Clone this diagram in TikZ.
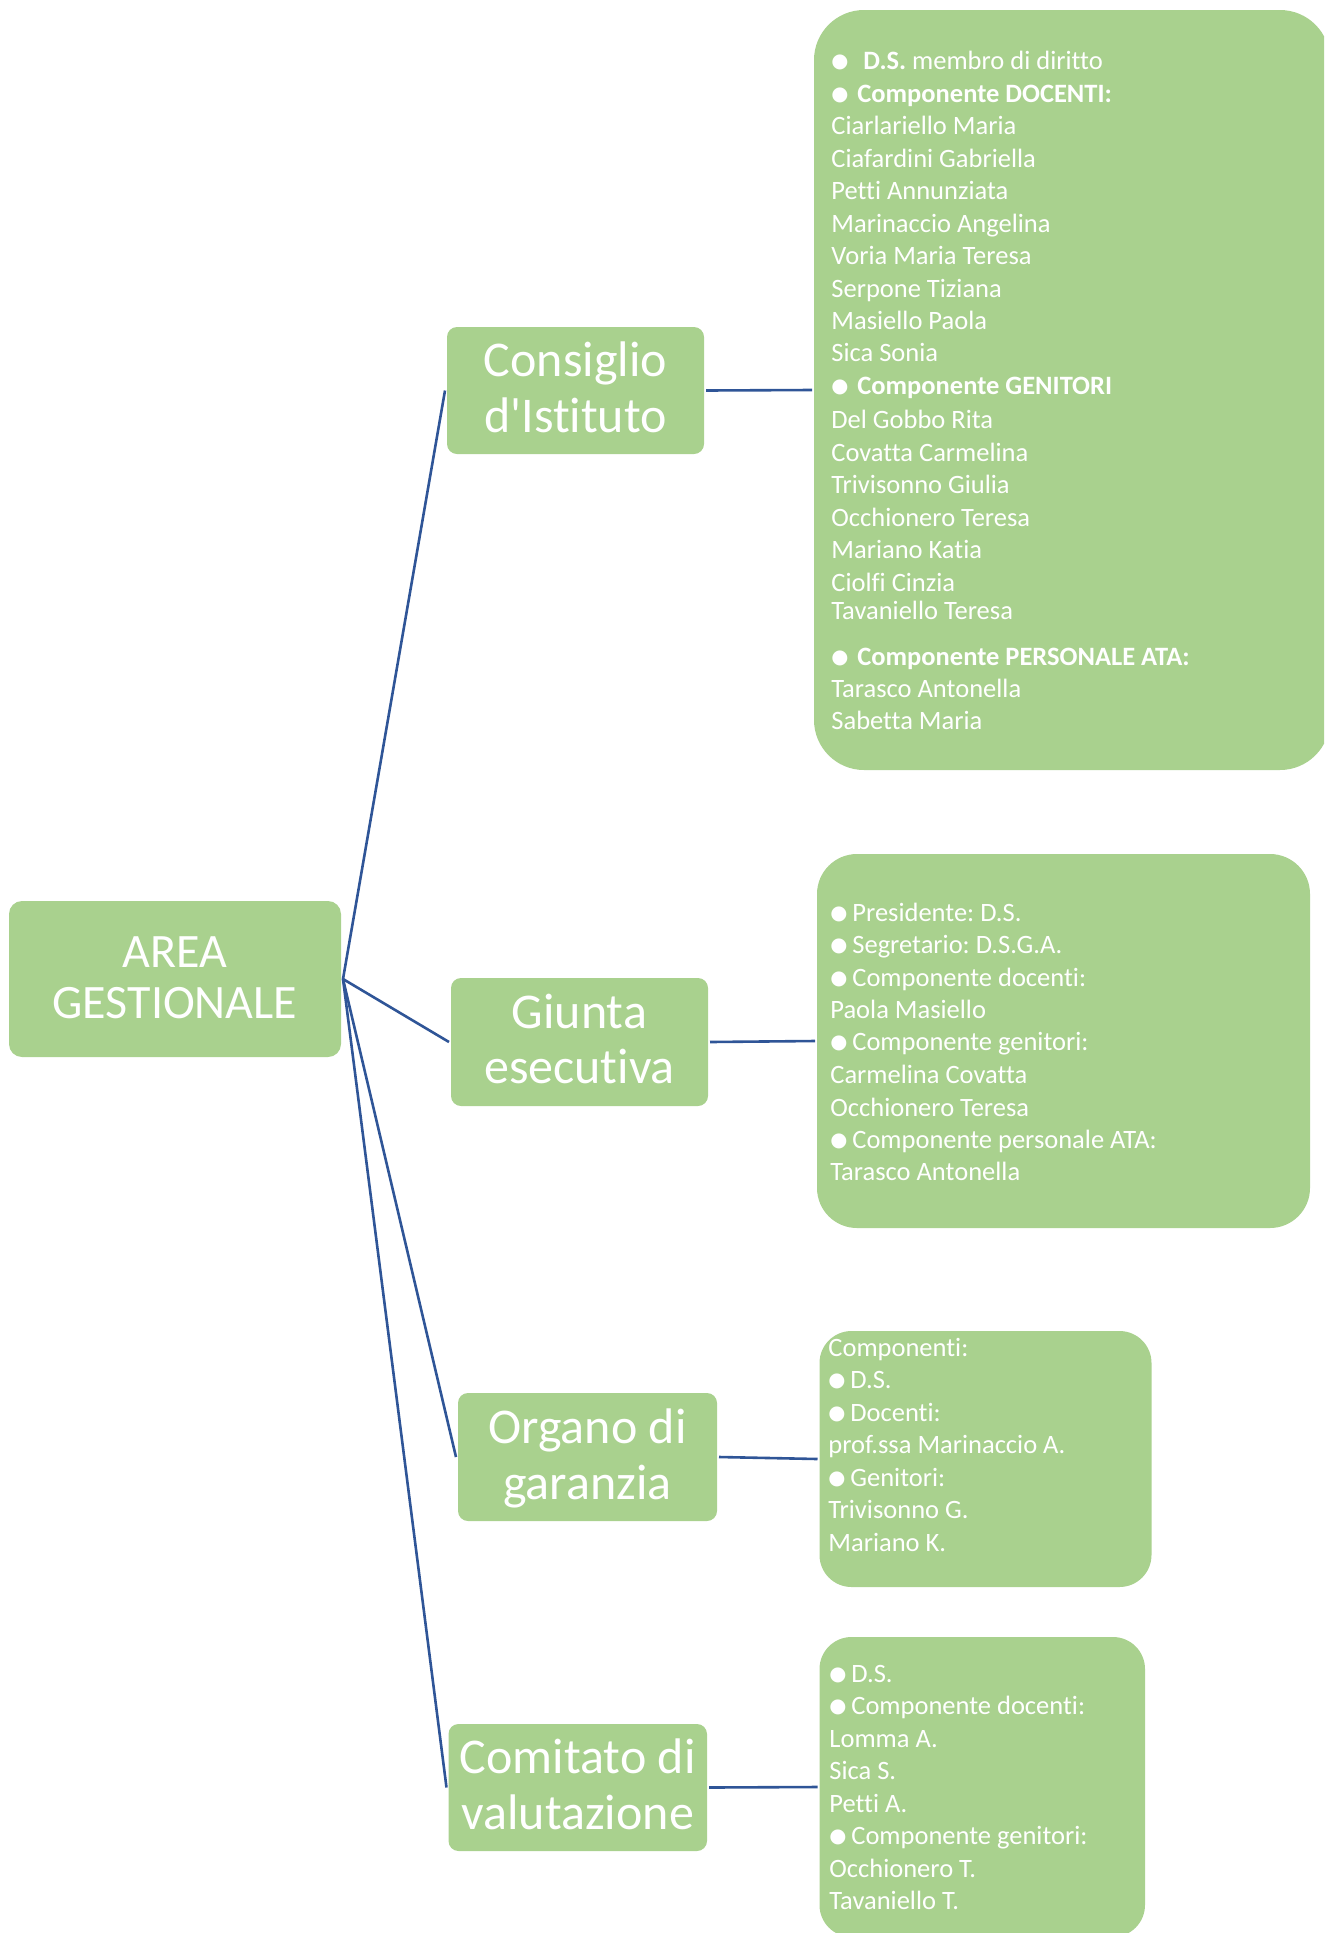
\documentclass[tikz,border=0pt]{standalone}
\usepackage{fontspec}
\setmainfont{Carlito}[Ligatures=NoCommon]
\newfontfamily\carl{Carlito}[Ligatures=NoCommon]
\newfontfamily\dvs{DejaVu Sans}
\definecolor{gr}{HTML}{A9D18E}
\definecolor{ln}{HTML}{2F5597}
\newcommand\mybul{\makebox[8pt][l]{\raisebox{1pt}{\dvs\fontsize{9.8}{9.8}\selectfont ●}}}
\frenchspacing
\begin{document}
\frenchspacing
\begin{tikzpicture}[x=0.5pt,y=-0.5pt,
  box/.style={fill=gr, draw=none, inner sep=0pt, outer sep=1pt, rounded corners=5pt},
  big/.style={text=white, font=\carl\fontsize{25}{28}\selectfont, anchor=base, inner sep=0pt},
  small/.style={text=white, font=\carl\frenchspacing\fontsize{13.25}{16.25}\selectfont, anchor=base west, inner sep=0pt},
  link/.style={draw=ln, line width=1.3pt}]
\useasboundingbox (0,0) rectangle (1324,1933);
\clip (0,0) rectangle (1324,1933);

% boxes
\node[box, rounded corners=6.5pt, minimum width=166pt, minimum height=78pt] (area) at (175,979) {};
\node[box, minimum width=128.5pt, minimum height=63.5pt] (ci) at (575.5,390.5) {};
\node[box, minimum width=128.5pt, minimum height=64pt] (gi) at (579.5,1042) {};
\node[box, minimum width=129.5pt, minimum height=64pt] (og) at (587.5,1457) {};
\node[box, minimum width=129.25pt, minimum height=63.5pt] (cv) at (577.75,1787.5) {};
\node[box, rounded corners=25pt, minimum width=258pt, minimum height=380pt] (b1) at (1072,390) {};
\node[box, rounded corners=20pt, minimum width=246.5pt, minimum height=187pt] (b2) at (1063.5,1041) {};
\node[box, rounded corners=16pt, minimum width=166pt, minimum height=128pt] (b3) at (985.5,1459) {};
\node[box, rounded corners=16pt, minimum width=162.75pt, minimum height=150pt] (b4) at (982.25,1787) {};

% big labels
\node[big, font=\carl\fontsize{24}{26}\selectfont] (area-1) at (175,967) {AREA};
\node[big, font=\carl\fontsize{24}{26}\selectfont] (area-2) at (175,1018) {GESTIONALE};
\node[big] (ci-1) at (575.5,376) {Consiglio};
\node[big] (ci-2) at (575.5,432) {d'Istituto};
\node[big] (gi-1) at (579.5,1028) {Giunta};
\node[big] (gi-2) at (579.5,1083) {esecutiva};
\node[big] (og-1) at (587.5,1443) {Organo di};
\node[big] (og-2) at (587.5,1499) {garanzia};
\node[big] (cv-1) at (577.75,1773) {Comitato di};
\node[big] (cv-2) at (577.75,1829) {valutazione};

% box 1 text
\foreach \y/\txt [count=\i] in {
  69/{\mybul\ \hspace{5pt}\textbf{D.S.} membro di diritto},
  102/{\mybul\ \hspace{2pt}\textbf{Componente DOCENTI:}},
  134/{Ciarlariello Maria},
  167/{Ciafardini Gabriella},
  199/{Petti Annunziata},
  232/{Marinaccio Angelina},
  264/{Voria Maria Teresa},
  297/{Serpone Tiziana},
  329/{Masiello Paola},
  361/{Sica Sonia},
  394/{\mybul\ \hspace{2pt}\textbf{Componente GENITORI}},
  428/{Del Gobbo Rita},
  461/{Covatta Carmelina},
  493/{Trivisonno Giulia},
  526/{Occhionero Teresa},
  558/{Mariano Katia},
  591/{Ciolfi Cinzia},
  619/{Tavaniello Teresa},
  665/{\mybul\ \hspace{2pt}\textbf{Componente PERSONALE ATA:}},
  697/{Tarasco Antonella},
  729/{Sabetta Maria}}
  \node[small] (t1-\i) at (831,\y) {\txt};

% box 2 text
\foreach \y/\txt [count=\i] in {
  921/{\mybul\ Presidente: D.S.},
  953/{\mybul\ Segretario: D.S.G.A.},
  986/{\mybul\ Componente docenti:},
  1018/{Paola Masiello},
  1050/{\mybul\ Componente genitori:},
  1083/{Carmelina Covatta},
  1116/{Occhionero Teresa},
  1148/{\mybul\ Componente personale ATA:},
  1180/{Tarasco Antonella}}
  \node[small] (t2-\i) at (830,\y) {\txt};

% box 3 text
\foreach \y/\txt [count=\i] in {
  1356/{Componenti:},
  1388/{\mybul\ D.S.},
  1421/{\mybul\ Docenti:},
  1453/{prof.ssa Marinaccio A.},
  1486/{\mybul\ Genitori:},
  1518/{Trivisonno G.},
  1551/{Mariano K.}}
  \node[small] (t3-\i) at (828,\y) {\txt};

% box 4 text
\foreach \y/\txt [count=\i] in {
  1682/{\mybul\ D.S.},
  1714.5/{\mybul\ Componente docenti:},
  1747/{Lomma A.},
  1779.5/{Sica S.},
  1812/{Petti A.},
  1844.5/{\mybul\ Componente genitori:},
  1877/{Occhionero T.},
  1909.5/{Tavaniello T.}}
  \node[small] (t4-\i) at (829,\y) {\txt};

% connectors
\draw[link] (area.east) -- (ci.west);
\draw[link] (area.east) -- (gi.west);
\draw[link] (area.east) -- (og.west);
\draw[link] (area.east) -- (cv.west);
\draw[link] (ci.east) -- (b1.west);
\draw[link] (gi.east) -- (b2.west);
\draw[link] (og.east) -- (b3.west);
\draw[link] (cv.east) -- (b4.west);
\end{tikzpicture}
\end{document}
